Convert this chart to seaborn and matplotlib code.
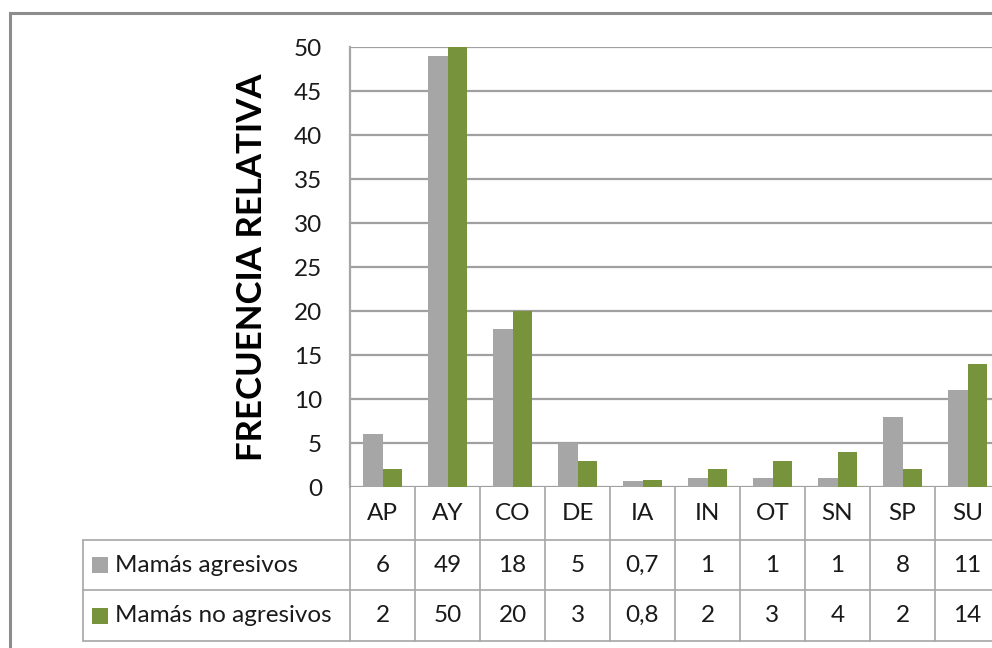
import matplotlib
matplotlib.use("Agg")
import matplotlib.pyplot as plt
from matplotlib.patches import Rectangle
from matplotlib.transforms import blended_transform_factory
import numpy as np
import pandas as pd
import seaborn as sns

# Categories and relative frequencies (%) for each group
categories = ["AP", "AY", "CO", "DE", "IA", "IN", "OT", "SN", "SP", "SU"]
agresivos = [6, 49, 18, 5, 0.7, 1, 1, 1, 8, 11]
no_agresivos = [2, 50, 20, 3, 0.8, 2, 3, 4, 2, 14]
series_names = ["Mamás agresivos", "Mamás no agresivos"]
y_ticks = [0, 5, 10, 15, 20, 25, 30, 35, 40, 45, 50]

colors = ["#A6A6A6", "#77933C"]
grid_color = "#A0A0A0"
line_color = "#A6A6A6"

df = pd.DataFrame({
    "categoria": categories * 2,
    "valor": agresivos + no_agresivos,
    "serie": [series_names[0]] * len(categories) + [series_names[1]] * len(categories),
})

sns.set_theme(style="white")
plt.rcParams["font.family"] = ["Lato", "DejaVu Sans"]

W, H = 992, 648
fig = plt.figure(figsize=(W / 100, H / 100), dpi=100)


def fx(px):
    return px / W


def fy(py):
    return 1 - py / H


# plot area in pixel coordinates
left_px, right_px, top_px, bottom_px = 350, 1000, 47, 487
ax = fig.add_axes([fx(left_px), fy(bottom_px), fx(right_px - left_px), (bottom_px - top_px) / H])

sns.barplot(data=df, x="categoria", y="valor", hue="serie", order=categories,
            hue_order=series_names, palette=colors, width=0.585, gap=0,
            linewidth=0, saturation=1, ax=ax, legend=False)

ax.set_xlim(-0.5, len(categories) - 0.5)
ax.set_ylim(0, 50)
ax.set_yticks(y_ticks)
ax.set_yticklabels([str(t) for t in y_ticks], fontsize=17.5, color="#1a1a1a")
ax.tick_params(axis="y", length=0, pad=20)
ax.set_xticks([])
ax.set_xlabel("")
ax.yaxis.grid(True, color=grid_color, linewidth=1.6)
ax.set_axisbelow(True)
for side in ["top", "right", "bottom"]:
    ax.spines[side].set_visible(False)
ax.spines["left"].set_color(line_color)
ax.spines["left"].set_linewidth(1.6)

ax.set_ylabel("FRECUENCIA RELATIVA", fontsize=25, fontweight="bold", color="black")
ax.yaxis.set_label_coords((268 - left_px) / (right_px - left_px), 0.5)

# data table under the plot: x follows the category axis, y in figure fraction
trans = blended_transform_factory(ax.transData, fig.transFigure)
row_edges = [487, 540, 590, 641]
tbl_left_px = 83
lw = 1.2

for i in range(len(categories) + 1):
    ax.plot([i - 0.5, i - 0.5], [fy(row_edges[0]), fy(row_edges[-1])], transform=trans,
            color=line_color, lw=lw, clip_on=False)
for r in row_edges[1:]:
    fig.add_artist(plt.Line2D([fx(tbl_left_px), fx(right_px)], [fy(r), fy(r)],
                              color=line_color, lw=lw))
fig.add_artist(plt.Line2D([fx(tbl_left_px), fx(tbl_left_px)], [fy(row_edges[1]), fy(row_edges[-1])],
                          color=line_color, lw=lw))

hdr_y = fy((row_edges[0] + row_edges[1]) / 2)
for i, c in enumerate(categories):
    ax.text(i, hdr_y, c, transform=trans, ha="center", va="center", fontsize=17.5, color="#1a1a1a")

fmt = lambda v: (f"{v:g}").replace(".", ",")
for r, (name, vals) in enumerate([(series_names[0], agresivos), (series_names[1], no_agresivos)]):
    cy = fy((row_edges[r + 1] + row_edges[r + 2]) / 2)
    fig.add_artist(Rectangle((fx(92), cy - 8 / H), 16 / W, 16 / H, transform=fig.transFigure,
                             facecolor=colors[r], edgecolor="none"))
    fig.text(fx(115), cy, name, ha="left", va="center", fontsize=17.5, color="#1a1a1a")
    for i, v in enumerate(vals):
        ax.text(i, cy, fmt(v), transform=trans, ha="center", va="center", fontsize=17.5, color="#1a1a1a")

# outer chart frame
fig.add_artist(Rectangle((fx(10), fy(660)), fx(1100), (660 - 13) / H, transform=fig.transFigure,
                         facecolor="none", edgecolor="#8C8C8C", lw=2.2))

fig.savefig("out.png", dpi=100)
